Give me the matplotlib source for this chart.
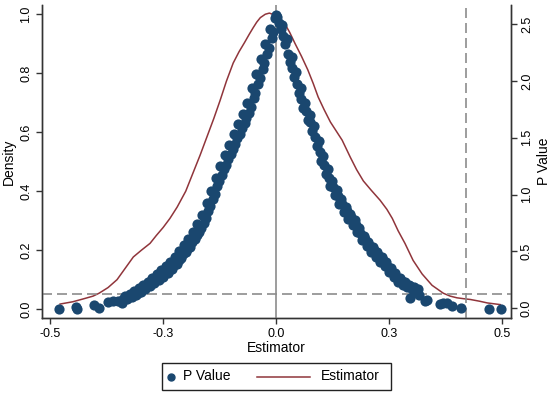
import matplotlib
matplotlib.use("Agg")
import matplotlib.pyplot as plt
from matplotlib.lines import Line2D
from matplotlib.patches import Rectangle

plt.rcParams["font.family"] = ["Liberation Sans", "DejaVu Sans"]

# p values of the placebo estimates (left arm, right arm, tails)
left_x = [-0.480, -0.442, -0.441, -0.404, -0.393, -0.371, -0.361, -0.350, -0.342, -0.338,
          -0.334, -0.330, -0.326, -0.324, -0.320, -0.316, -0.314, -0.310, -0.306,
          -0.304, -0.300, -0.296, -0.294, -0.290, -0.286, -0.284, -0.280, -0.276,
          -0.274, -0.270, -0.266, -0.264, -0.260, -0.256, -0.254, -0.250, -0.246,
          -0.244, -0.240, -0.236, -0.234, -0.230, -0.226, -0.224, -0.220, -0.216,
          -0.214, -0.210, -0.206, -0.204, -0.200, -0.196, -0.194, -0.190, -0.186,
          -0.184, -0.180, -0.176, -0.174, -0.170, -0.166, -0.164, -0.160, -0.156,
          -0.154, -0.150, -0.146, -0.144, -0.140, -0.136, -0.134, -0.130, -0.126,
          -0.124, -0.120, -0.116, -0.114, -0.110, -0.106, -0.104, -0.100, -0.096,
          -0.094, -0.090, -0.086, -0.084, -0.080, -0.076, -0.074, -0.070, -0.066,
          -0.064, -0.060, -0.056, -0.054, -0.050, -0.046, -0.044, -0.040, -0.036,
          -0.034, -0.030, -0.026, -0.024, -0.020, -0.016, -0.013, -0.010, -0.006,
          -0.003, 0.000]
left_p = [0.000, 0.006, 0.002, 0.013, 0.003, 0.024, 0.027, 0.028, 0.022, 0.036,
          0.045, 0.035, 0.041, 0.052, 0.042, 0.048, 0.060, 0.049, 0.056,
          0.071, 0.058, 0.066, 0.082, 0.068, 0.077, 0.093, 0.078, 0.088,
          0.105, 0.088, 0.099, 0.118, 0.099, 0.111, 0.131, 0.110, 0.123,
          0.145, 0.122, 0.136, 0.160, 0.137, 0.151, 0.178, 0.153, 0.168,
          0.198, 0.173, 0.188, 0.218, 0.193, 0.208, 0.238, 0.212, 0.228,
          0.262, 0.236, 0.251, 0.287, 0.260, 0.276, 0.320, 0.292, 0.309,
          0.360, 0.332, 0.349, 0.402, 0.374, 0.391, 0.446, 0.416, 0.434,
          0.486, 0.456, 0.474, 0.522, 0.490, 0.509, 0.557, 0.525, 0.544,
          0.592, 0.560, 0.579, 0.627, 0.595, 0.614, 0.662, 0.630, 0.649,
          0.698, 0.664, 0.684, 0.748, 0.714, 0.734, 0.798, 0.764, 0.784,
          0.848, 0.814, 0.834, 0.898, 0.864, 0.884, 0.950, 0.920, 0.940,
          0.985, 0.995]

right_x = [0.002, 0.006, 0.010, 0.014, 0.016, 0.020, 0.024, 0.026, 0.030, 0.034,
           0.036, 0.040, 0.044, 0.046, 0.050, 0.054, 0.056, 0.060, 0.064,
           0.066, 0.070, 0.074, 0.076, 0.080, 0.084, 0.086, 0.090, 0.094,
           0.096, 0.100, 0.104, 0.106, 0.110, 0.114, 0.116, 0.120, 0.124,
           0.126, 0.130, 0.134, 0.136, 0.140, 0.144, 0.146, 0.150, 0.154,
           0.156, 0.160, 0.164, 0.166, 0.170, 0.174, 0.176, 0.180, 0.184,
           0.186, 0.190, 0.194, 0.196, 0.200, 0.204, 0.206, 0.210, 0.214,
           0.216, 0.220, 0.224, 0.226, 0.230, 0.234, 0.236, 0.240, 0.244,
           0.246, 0.250, 0.254, 0.256, 0.260, 0.264, 0.266, 0.270, 0.274,
           0.276, 0.280, 0.284, 0.286, 0.290, 0.294, 0.296, 0.300, 0.304,
           0.306, 0.310, 0.314,
           0.296, 0.315, 0.330, 0.334, 0.363, 0.370, 0.378, 0.390, 0.410,
           0.470, 0.497]
right_p = [0.990, 0.970, 0.950, 0.962, 0.925, 0.898, 0.914, 0.866, 0.838, 0.854,
           0.816, 0.788, 0.804, 0.762, 0.732, 0.749, 0.712, 0.682, 0.699,
           0.672, 0.642, 0.659, 0.634, 0.604, 0.621, 0.582, 0.552, 0.569,
           0.532, 0.502, 0.519, 0.487, 0.457, 0.474, 0.446, 0.416, 0.434,
           0.415, 0.387, 0.404, 0.385, 0.357, 0.374, 0.357, 0.330, 0.347,
           0.334, 0.307, 0.324, 0.311, 0.285, 0.302, 0.285, 0.260, 0.276,
           0.258, 0.233, 0.249, 0.237, 0.213, 0.229, 0.217, 0.194, 0.209,
           0.199, 0.177, 0.192, 0.183, 0.161, 0.176, 0.165, 0.145, 0.159,
           0.145, 0.126, 0.139, 0.126, 0.108, 0.121, 0.109, 0.092, 0.104,
           0.098, 0.083, 0.093, 0.087, 0.074, 0.083, 0.078, 0.067, 0.075,
           0.071, 0.061, 0.069,
           0.037, 0.047, 0.027, 0.030, 0.017, 0.022, 0.020, 0.010, 0.003,
           0.000, 0.000]

# kernel density of the estimates
dens_x = [-0.478, -0.45, -0.427, -0.405, -0.392, -0.372, -0.352, -0.334, -0.316,
          -0.298, -0.279, -0.265, -0.25, -0.235, -0.219, -0.20, -0.184, -0.168,
          -0.153, -0.138, -0.124, -0.11, -0.095, -0.082, -0.07, -0.06, -0.051,
          -0.043, -0.035, -0.024, -0.015, -0.008, 0.0, 0.01, 0.02, 0.03, 0.042,
          0.056, 0.07, 0.082, 0.093, 0.106, 0.12, 0.133, 0.146, 0.164, 0.178,
          0.193, 0.21, 0.23, 0.245, 0.257, 0.27, 0.285, 0.303, 0.323, 0.345,
          0.37, 0.385, 0.40, 0.415, 0.43, 0.45, 0.467, 0.496]
dens_y = [0.035, 0.055, 0.08, 0.105, 0.13, 0.18, 0.25, 0.35, 0.45,
          0.51, 0.57, 0.64, 0.71, 0.79, 0.89, 1.03, 1.19, 1.35,
          1.51, 1.67, 1.83, 2.00, 2.16, 2.26, 2.34, 2.41, 2.47,
          2.52, 2.56, 2.59, 2.60, 2.59, 2.56, 2.54, 2.50, 2.43, 2.33,
          2.22, 2.10, 1.98, 1.86, 1.75, 1.64, 1.56, 1.48, 1.33, 1.22,
          1.12, 1.04, 0.95, 0.87, 0.79, 0.68, 0.57, 0.42, 0.30, 0.20,
          0.13, 0.105, 0.09, 0.082, 0.075, 0.06, 0.045, 0.03]

x_ticks = [-0.5, -0.25, 0.0, 0.25, 0.5]
x_tick_labels = ["-0.5", "-0.3", "0.0", "0.3", "0.5"]
left_ticks = [0.0, 0.2, 0.4, 0.6, 0.8, 1.0]
right_ticks = [0.0, 0.5, 1.0, 1.5, 2.0, 2.5]
true_estimate = 0.42
p_cut = 0.05

navy = "#1a476f"
maroon = "#90353b"
axis_col = "#333333"
ref_col = "#8c8c8c"

fig = plt.figure(figsize=(5.5, 3.97), dpi=100)
ax = fig.add_axes([0.0764, 0.199, 0.853, 0.788])
ax2 = ax.twinx()

ax.axvline(0, color=ref_col, lw=1.2, zorder=1)
ax.axvline(true_estimate, color=ref_col, lw=1.2, ls=(0, (6, 3)), zorder=1)
ax.axhline(p_cut, color=ref_col, lw=1.2, ls=(0, (6, 3)), zorder=1)

ax.scatter(left_x + right_x, left_p + right_p, s=54, color=navy,
           linewidths=0, zorder=3)
ax2.plot(dens_x, dens_y, color=maroon, lw=1.1, zorder=4)

ax.set_zorder(ax2.get_zorder() + 1)
ax.patch.set_visible(False)

ax.set_xlim(-0.518, 0.52)
ax.set_ylim(-0.03, 1.03)
ax2.set_ylim(-0.088, 2.67)

ax.set_xticks(x_ticks)
ax.set_xticklabels(x_tick_labels)
ax.set_yticks(left_ticks)
ax.set_yticklabels(["%.1f" % v for v in left_ticks], rotation=90, va="center")
ax2.set_yticks(right_ticks)
ax2.set_yticklabels(["%.1f" % v for v in right_ticks], rotation=90, va="center")

for a in (ax, ax2):
    a.tick_params(direction="out", length=4, width=1, color=axis_col,
                  labelsize=9, pad=3)
    a.spines["top"].set_visible(False)
    for s in ("left", "right", "bottom"):
        a.spines[s].set_color(axis_col)
        a.spines[s].set_linewidth(1)

ax.set_xlabel("Estimator", fontsize=10, labelpad=1)
ax.set_ylabel("Density", fontsize=10, labelpad=3)
ax2.set_ylabel("P Value", fontsize=10, labelpad=3)

# legend box drawn in figure coordinates (Stata style layout)
W, H = 550.0, 397.0
fig.add_artist(Rectangle((162 / W, 1 - 390 / H), (391 - 162) / W, 27 / H,
                         transform=fig.transFigure, fill=False,
                         edgecolor="#222222", lw=1))
ly = 1 - 376.5 / H
fig.add_artist(Line2D([171 / W], [ly], marker="o", markersize=5, color=navy,
                      ls="", transform=fig.transFigure))
fig.text(183 / W, ly, "P Value", fontsize=10, va="center", ha="left")
fig.add_artist(Line2D([257 / W, 310 / W], [ly, ly], color=maroon, lw=1.1,
                      transform=fig.transFigure))
fig.text(321 / W, ly, "Estimator", fontsize=10, va="center", ha="left")

fig.savefig("out.png", dpi=100)
plt.close(fig)
